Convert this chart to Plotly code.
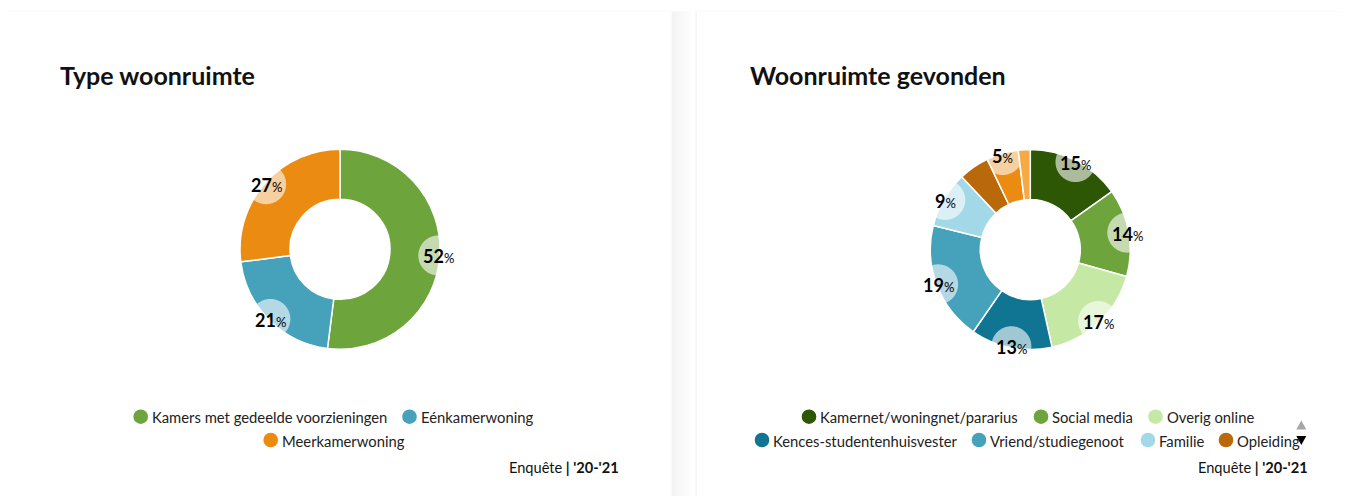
import math
import plotly.graph_objects as go

W, H = 1351, 504          # browser window
OFF = 8                   # default body margin of the page
FW, FH = W - 2 * OFF, H - 2 * OFF

# ---------------- data ----------------
type_title = "Type woonruimte"
type_labels = ["Kamers met gedeelde voorzieningen", "Eénkamerwoning", "Meerkamerwoning"]
type_values = [52, 21, 27]
type_colors = ["#6ea43c", "#46a1bb", "#ec8b12"]

found_title = "Woonruimte gevonden"
found_labels = ["Kamernet/woningnet/pararius", "Social media", "Overig online",
                "Kences-studentenhuisvester", "Vriend/studiegenoot", "Familie",
                "Opleiding", "Via via", "Anders"]
found_values = [15, 14, 17, 13, 19, 9, 4.9, 5.1, 1.9]
found_colors = ["#2d5605", "#6ea43c", "#c5e8a5", "#0f7592", "#46a1bb", "#a3d8e8",
                "#b9690a", "#ec8b12", "#f6aa45"]

source_text = "Enquête"
period_text = "'20-'21"

# ---------------- layout helpers ----------------
FONT = "Lato"
R = 100  # outer radius in px (pie domain 200x200)


def px(x):
    return (x - OFF) / FW


def py(y):
    return 1 - (y - OFF) / FH


def pie_domain(cx, cy, r):
    return dict(x=[px(cx - r), px(cx + r)], y=[py(cy + r), py(cy - r)])


def bubble_path(cx, cy, a0, a1, rho=20.0, rr=0.985):
    """intersection of a small disk centred on the rim with the slice."""
    am = (a0 + a1) / 2
    bx = cx + rr * R * math.sin(am)
    by = cy - rr * R * math.cos(am)
    p = (cx + (R - 8) * math.sin(am), cy - (R - 8) * math.cos(am))
    disks = [((bx, by), rho), ((cx, cy), R)]
    planes = []
    if a1 - a0 < math.pi:
        planes.append((math.cos(a0), math.sin(a0)))
        planes.append((-math.cos(a1), -math.sin(a1)))
    pts = []
    for k in range(240):
        t = 2 * math.pi * k / 240
        d = (math.cos(t), math.sin(t))
        best = 1e9
        for (c, r) in disks:
            f = (p[0] - c[0], p[1] - c[1])
            fd = f[0] * d[0] + f[1] * d[1]
            disc = fd * fd - (f[0] ** 2 + f[1] ** 2 - r * r)
            s = -fd + math.sqrt(max(disc, 0))
            best = min(best, s)
        for n in planes:
            g0 = n[0] * (p[0] - cx) + n[1] * (p[1] - cy)
            nd = n[0] * d[0] + n[1] * d[1]
            if nd < 0:
                best = min(best, -g0 / nd)
        pts.append((p[0] + best * d[0], p[1] + best * d[1]))
    path = "M " + " L ".join(f"{px(x):.6f},{py(y):.6f}" for x, y in pts) + " Z"
    return path, (bx, by)


def tri_path(cx, cy, w, h, up):
    if up:
        pts = [(cx - w / 2, cy + h / 2), (cx + w / 2, cy + h / 2), (cx, cy - h / 2)]
    else:
        pts = [(cx - w / 2, cy - h / 2), (cx + w / 2, cy - h / 2), (cx, cy + h / 2)]
    return "M " + " L ".join(f"{px(x):.6f},{py(y):.6f}" for x, y in pts) + " Z"


fig = go.Figure()
shapes = []
annotations = []

# cards with soft shadow (mostly to the right)
for (x0, x1) in [(8, 671.5), (697, 1365)]:
    for i in range(12, 0, -1):
        shapes.append(dict(type="rect", xref="paper", yref="paper", layer="below",
                           x0=px(x0 - i * 0.3), x1=px(x1 + i * 1.8),
                           y0=py(H + 20), y1=py(12 - i * 0.12),
                           fillcolor="rgba(0,0,0,0.0055)", line=dict(width=0)))
    shapes.append(dict(type="rect", xref="paper", yref="paper", layer="below",
                       x0=px(x0), x1=px(x1), y0=py(H + 20), y1=py(12),
                       fillcolor="#ffffff", line=dict(width=0)))


def add_donut(cx, cy, labels, values, colors, title, title_x, legend_rows,
              legend_y, src_right):
    fig.add_trace(go.Pie(
        labels=labels, values=values, hole=0.5, sort=False,
        direction="clockwise", rotation=0, textinfo="none",
        marker=dict(colors=colors, line=dict(color="#ffffff", width=1.5)),
        domain=pie_domain(cx, cy, R), showlegend=False,
        hovertemplate="%{label}: %{percent}<extra></extra>"))
    total = sum(values)
    acc = 0
    for v, col in zip(values, colors):
        a0 = 2 * math.pi * acc / total
        a1 = 2 * math.pi * (acc + v) / total
        acc += v
        if v < 5:
            continue
        path, (bx, by) = bubble_path(cx, cy, a0, a1)
        shapes.append(dict(type="path", xref="paper", yref="paper", layer="above",
                           path=path, fillcolor="rgba(255,255,255,0.6)",
                           line=dict(width=0)))
        pct = round(100 * v / total)
        annotations.append(dict(
            x=px(bx), y=py(by + 1), xref="paper", yref="paper", showarrow=False,
            xanchor="center", yanchor="middle",
            text=f"<b>{pct}</b><span style='font-size:13px'>%</span>",
            font=dict(family=FONT, size=18, color="#000000")))
    # title
    annotations.append(dict(x=px(title_x), y=py(75), xref="paper", yref="paper",
                            showarrow=False, xanchor="left", yanchor="middle",
                            text=f"<b>{title}</b>",
                            font=dict(family=FONT, size=25, color="#111111")))
    # legend
    for row, ly in zip(legend_rows, legend_y):
        for idx, lx in row:
            shapes.append(dict(type="circle", xref="paper", yref="paper",
                               x0=px(lx - 7.3), x1=px(lx + 7.3),
                               y0=py(ly + 7.3), y1=py(ly - 7.3),
                               fillcolor=colors[idx], line=dict(width=0),
                               layer="above"))
            annotations.append(dict(x=px(lx + 9), y=py(ly + 0.5), xref="paper",
                                    yref="paper", showarrow=False, xanchor="left",
                                    yanchor="middle", text=labels[idx],
                                    font=dict(family=FONT, size=14.8,
                                              color="#222222")))
    # source
    annotations.append(dict(x=px(src_right), y=py(467), xref="paper", yref="paper",
                            showarrow=False, xanchor="right", yanchor="middle",
                            text=f"{source_text}<b> | {period_text}</b>",
                            font=dict(family=FONT, size=14.6, color="#111111")))


add_donut(340, 249.3, type_labels, type_values, type_colors, type_title, 58,
          [[(0, 140.7), (1, 409.5)], [(2, 270.7)]], [416.7, 440], 621)
add_donut(1030.3, 249.6, found_labels, found_values, found_colors, found_title, 748,
          [[(0, 809), (1, 1041), (2, 1155.5)],
           [(3, 762), (4, 979), (5, 1148), (6, 1226)]], [416.7, 440], 1310)

# legend paging arrows
shapes.append(dict(type="path", xref="paper", yref="paper", layer="above",
                   path=tri_path(1301.3, 425, 10, 9, True),
                   fillcolor="#a6a6a6", line=dict(width=0)))
shapes.append(dict(type="path", xref="paper", yref="paper", layer="above",
                   path=tri_path(1301.3, 440.5, 10, 9, False),
                   fillcolor="#000000", line=dict(width=0)))

fig.update_layout(
    width=FW, height=FH, margin=dict(l=0, r=0, t=0, b=0),
    paper_bgcolor="#ffffff", plot_bgcolor="#ffffff",
    shapes=shapes, annotations=annotations, showlegend=False,
    font=dict(family=FONT),
)

fig.write_html("out.html")
